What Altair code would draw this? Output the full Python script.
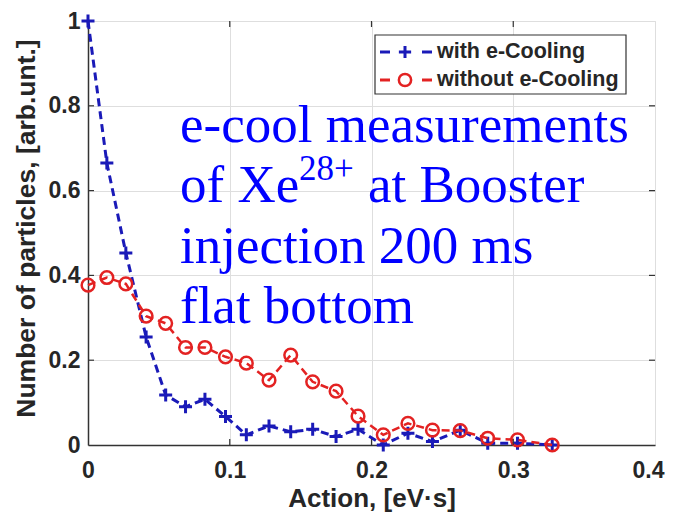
import altair as alt
import pandas as pd

# ---- data ----
action = [0.0, 0.0133, 0.0267, 0.041, 0.0548, 0.0688, 0.0825, 0.097, 0.1117, 0.1277,
          0.143, 0.1585, 0.175, 0.1905, 0.2083, 0.2257, 0.243, 0.2626, 0.282, 0.303, 0.3275]
with_cool = [1.0, 0.665, 0.453, 0.255, 0.118, 0.090, 0.108, 0.067, 0.024, 0.045,
             0.031, 0.037, 0.020, 0.037, 0.0, 0.028, 0.008, 0.035, 0.004, 0.004, 0.0]
without_cool = [0.377, 0.395, 0.380, 0.304, 0.287, 0.230, 0.230, 0.208, 0.193, 0.153,
                0.212, 0.149, 0.127, 0.068, 0.024, 0.051, 0.035, 0.034, 0.016, 0.012, 0.0]
x_ticks = [0, 0.1, 0.2, 0.3, 0.4]
y_ticks = [0, 0.2, 0.4, 0.6, 0.8, 1.0]
series_labels = ["with e-Cooling", "without e-Cooling"]
note_lines = ["e-cool measurements", "of Xe", "28+", "at Booster", "injection 200 ms", "flat bottom"]

W, H = 567, 424
BLUE = "#1a1ab8"
RED = "#e32222"
PLUS = "M-1,0H1M0,-1V1"
SANS = "Liberation Sans"
SERIF = "Liberation Serif"
TXT = "#262626"

df = pd.DataFrame({"action": action, "with": with_cool, "without": without_cool})
one = pd.DataFrame({"k": [0]})

xscale = alt.Scale(domain=[0, 0.4], nice=False, zero=False)
yscale = alt.Scale(domain=[0, 1], nice=False, zero=False)

xax = alt.Axis(values=x_ticks, format="~g", title="Action, [eV·s]", grid=True, ticks=False,
               labelPadding=14, labelFontSize=23, labelFontWeight="bold", labelFont=SANS,
               labelColor=TXT, labelFlush=False,
               labelOffset={"condition": {"test": "datum.value >= 0.39", "value": -7}, "value": 0},
               titleFont=SANS, titleFontSize=26,
               titleFontWeight="bold", titleColor=TXT, titleX=W / 2, titleY=53,
               titleBaseline="middle", titleAlign="center",
               domainColor="#333333", domainWidth=1.5, gridColor="#dedede", gridWidth=1)
yax = alt.Axis(values=y_ticks, format="~g", title="Number of particles, [arb.unt.]", grid=True,
               ticks=False, labelPadding=8, labelFontSize=23, labelFontWeight="bold",
               labelFont=SANS, labelColor=TXT, labelFlush=False, titleFont=SANS,
               titleFontSize=26.5, titleFontWeight="bold", titleColor=TXT, titleX=-62,
               titleY=207, titleAngle=-90, titleBaseline="middle", titleAlign="center",
               domainColor="#333333", domainWidth=1.5, gridColor="#dedede", gridWidth=1)

X = alt.X("action:Q", scale=xscale, axis=xax)
base = alt.Chart(df)

blue_line = base.mark_line(color=BLUE, strokeWidth=3, strokeDash=[8, 5]).encode(
    x=X, y=alt.Y("with:Q", scale=yscale, axis=yax))
blue_pts = base.mark_point(shape=PLUS, color=BLUE, strokeWidth=3, size=169, filled=False,
                           opacity=1).encode(x=X, y=alt.Y("with:Q", scale=yscale, axis=yax))
red_line = base.mark_line(color=RED, strokeWidth=2.5, strokeDash=[8, 5]).encode(
    x=X, y=alt.Y("without:Q", scale=yscale, axis=yax))
red_pts = base.mark_point(shape="circle", color=RED, strokeWidth=2.5, size=160, filled=False,
                          opacity=1).encode(x=X, y=alt.Y("without:Q", scale=yscale, axis=yax))

# inward ticks on the four sides
xt = pd.DataFrame({"t": x_ticks[1:-1]})
yt = pd.DataFrame({"t": y_ticks[1:-1]})
tick_style = dict(color="#333333", strokeWidth=1.2)
ticks = [
    alt.Chart(xt).mark_rule(**tick_style).encode(
        x=alt.X("t:Q", scale=xscale, axis=xax), y=alt.value(H), y2=alt.value(H - 6)),
    alt.Chart(xt).mark_rule(**tick_style).encode(
        x=alt.X("t:Q", scale=xscale, axis=xax), y=alt.value(0), y2=alt.value(6)),
    alt.Chart(yt).mark_rule(**tick_style).encode(
        y=alt.Y("t:Q", scale=yscale, axis=yax), x=alt.value(0), x2=alt.value(6)),
    alt.Chart(yt).mark_rule(**tick_style).encode(
        y=alt.Y("t:Q", scale=yscale, axis=yax), x=alt.value(W), x2=alt.value(W - 6)),
]

# legend (drawn by hand, MATLAB style)
lg = alt.Chart(one)
legend_layers = [
    lg.mark_rect(fill="white", stroke="#333333", strokeWidth=1.2).encode(
        x=alt.value(287), x2=alt.value(538), y=alt.value(14), y2=alt.value(73)),
]
for row, (label, col, shape, sw) in enumerate(
        [(series_labels[0], BLUE, PLUS, 3), (series_labels[1], RED, "circle", 2.5)]):
    yy = 31 + 28 * row
    legend_layers += [
        lg.mark_rule(color=col, strokeWidth=3).encode(
            x=alt.value(292), x2=alt.value(302), y=alt.value(yy)),
        lg.mark_rule(color=col, strokeWidth=3).encode(
            x=alt.value(334), x2=alt.value(344), y=alt.value(yy)),
        lg.mark_point(shape=shape, color=col, strokeWidth=sw, size=150, filled=False,
                      opacity=1).encode(x=alt.value(317), y=alt.value(yy)),
        lg.mark_text(align="left", baseline="middle", font=SANS, fontSize=21.5,
                     fontWeight="bold", color=TXT).encode(
            x=alt.value(349), y=alt.value(yy), text=alt.value(label)),
    ]

# blue annotation text
note_style = dict(align="left", baseline="alphabetic", font=SERIF, color="#0000ff")
notes = [
    lg.mark_text(fontSize=53, **note_style).encode(
        x=alt.value(92), y=alt.value(121), text=alt.value(note_lines[0])),
    lg.mark_text(fontSize=53, **note_style).encode(
        x=alt.value(92), y=alt.value(181), text=alt.value(note_lines[1])),
    lg.mark_text(fontSize=35, **note_style).encode(
        x=alt.value(211), y=alt.value(159), text=alt.value(note_lines[2])),
    lg.mark_text(fontSize=53, **note_style).encode(
        x=alt.value(280), y=alt.value(181), text=alt.value(note_lines[3])),
    lg.mark_text(fontSize=53, **note_style).encode(
        x=alt.value(92), y=alt.value(242), text=alt.value(note_lines[4])),
    lg.mark_text(fontSize=53, **note_style).encode(
        x=alt.value(92), y=alt.value(302), text=alt.value(note_lines[5])),
]

chart = alt.layer(
    blue_line, blue_pts, red_line, red_pts, *ticks, *legend_layers, *notes
).properties(
    width=W, height=H,
    autosize=alt.AutoSizeParams(type="none"),
    padding={"left": 80, "top": 13, "right": 10, "bottom": 67},
).configure_view(stroke="#555555", strokeWidth=1.2).configure(background="white")

chart.save("out.html", embed_options={"renderer": "svg", "actions": False})
